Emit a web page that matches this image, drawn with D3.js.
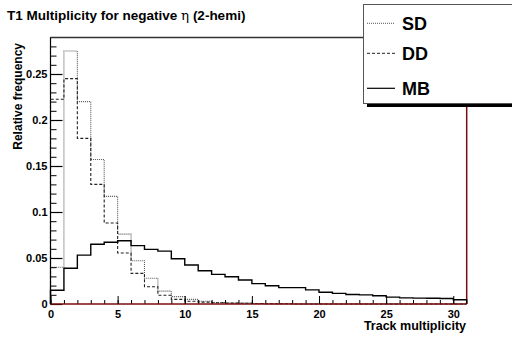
<!DOCTYPE html>
<html><head><meta charset="utf-8">
<script src="https://cdn.jsdelivr.net/npm/d3@7"></script>
<style>
body{margin:0;background:#fff;}
svg{display:block;font-family:"Liberation Sans",Arial,Helvetica,sans-serif;}
</style></head>
<body><svg id="c" width="512" height="338"></svg>
<script>
// Bins: track multiplicity 0..30, width 1
const binEdges = d3.range(0, 32);
const sdValues = [0.040, 0.275, 0.220, 0.157, 0.117, 0.076, 0.047, 0.028, 0.014, 0.008, 0.005, 0.003, 0.0015, 0.001, 0.001, 0.0005, 0.0003, 0.0002, 0, 0, 0, 0, 0, 0, 0, 0, 0, 0, 0, 0, 0];
const ddValues = [0.2225, 0.245, 0.180, 0.130, 0.088, 0.0555, 0.0333, 0.0188, 0.0095, 0.005, 0.003, 0.002, 0.0013, 0.001, 0.0008, 0.0005, 0.0003, 0.0002, 0, 0, 0, 0, 0, 0, 0, 0, 0, 0, 0, 0, 0];
const mbValues = [0.015, 0.0388, 0.0531, 0.0649, 0.0672, 0.0687, 0.0634, 0.0594, 0.0575, 0.0492, 0.0424, 0.0362, 0.0322, 0.0297, 0.0261, 0.0221, 0.0198, 0.0178, 0.0178, 0.0154, 0.0128, 0.0116, 0.0103, 0.0099, 0.009, 0.0075, 0.0067, 0.0064, 0.0062, 0.006, 0.0047];
const seriesNames = ["SD", "DD", "MB"];
const xMajorTicks = [0, 5, 10, 15, 20, 25, 30];
const yMajorTicks = [0, 0.05, 0.1, 0.15, 0.2, 0.25];
const yTickLabels = ["0", "0.05", "0.1", "0.15", "0.2", "0.25"];

const svg = d3.select("#c");
const x = d3.scaleLinear().domain([0, 31]).range([50.5, 466.7]);
const y = d3.scaleLinear().domain([0, 0.29]).range([304, 37.2]);

// Frame top
svg.append("line").attr("x1", 50.5).attr("x2", 466.7).attr("y1", 37.5).attr("y2", 37.5)
  .attr("stroke", "#333").attr("stroke-width", 1.5);
// Right frame
svg.append("line").attr("x1", 466.7).attr("x2", 466.7).attr("y1", 37.5).attr("y2", 304)
  .attr("stroke", "#7a0f0f").attr("stroke-width", 1.5);

// Histograms
const stepLine = d3.line().x(d => x(d[0])).y(d => y(d[1])).curve(d3.curveStepAfter);
function pts(vals){
  const p = [[0, 0]];
  vals.forEach((v, i) => p.push([binEdges[i], v]));
  p.push([binEdges[vals.length], vals[vals.length - 1]]);
  p.push([binEdges[vals.length], 0]);
  return p;
}
const styles = {
  SD: {stroke: "#555", width: 1.1, dash: "1,1"},
  DD: {stroke: "#222", width: 1.1, dash: "3,2"},
  MB: {stroke: "#000", width: 1.4, dash: null}
};
const data = {SD: sdValues, DD: ddValues, MB: mbValues};
seriesNames.forEach(n => {
  svg.append("path").attr("d", stepLine(pts(data[n])))
    .attr("fill", "none").attr("stroke", styles[n].stroke)
    .attr("stroke-width", styles[n].width)
    .attr("stroke-dasharray", styles[n].dash);
});

// Y axis
const yMinor = svg.append("g").attr("transform", "translate(50.5,0)")
  .call(d3.axisLeft(y).tickValues(d3.range(0, 0.285, 0.01)).tickSize(-6).tickFormat(""));
yMinor.select(".domain").remove();
yMinor.selectAll("line").attr("stroke", "#000").attr("stroke-width", 1);
const yAx = svg.append("g").attr("transform", "translate(50.5,0)")
  .call(d3.axisLeft(y).tickValues(yMajorTicks).tickSize(-12).tickPadding(3)
    .tickFormat((d, i) => yTickLabels[i]));
yAx.select(".domain").attr("d", `M0,${y(0)}V37.2`).attr("stroke", "#000").attr("stroke-width", 1.2);
yAx.selectAll("line").attr("stroke", "#000").attr("stroke-width", 1.2);
yAx.selectAll("text").attr("font-size", 11).attr("font-weight", "bold").attr("fill", "#000")
  .attr("font-family", "Liberation Sans, Arial, sans-serif");

// X axis
const xMinor = svg.append("g").attr("transform", "translate(0,304)")
  .call(d3.axisBottom(x).tickValues(d3.range(0, 31, 1)).tickSize(-4).tickFormat(""));
xMinor.select(".domain").remove();
xMinor.selectAll("line").attr("stroke", "#000");
const xAx = svg.append("g").attr("transform", "translate(0,304)")
  .call(d3.axisBottom(x).tickValues(xMajorTicks).tickSize(-8).tickPadding(6).tickFormat(d3.format("d")));
xAx.select(".domain").attr("d", `M${x(0)},0H${x(31)}`).attr("stroke", "#7a0f0f").attr("stroke-width", 1.6);
xAx.selectAll("line").attr("stroke", "#000");
xAx.selectAll("text").attr("font-size", 11).attr("font-weight", "bold").attr("fill", "#000")
  .attr("font-family", "Liberation Sans, Arial, sans-serif");

// Axis titles
svg.append("text").attr("x", 466).attr("y", 330).attr("text-anchor", "end")
  .attr("font-size", 12.5).attr("font-weight", "bold").text("Track multiplicity");
svg.append("text").attr("transform", "translate(21.5,43) rotate(-90)").attr("text-anchor", "end")
  .attr("font-size", 12).attr("font-weight", "bold").text("Relative frequency");

// Title
const t = svg.append("text").attr("x", 7).attr("y", 20).attr("font-size", 13.5).attr("font-weight", "bold");
t.append("tspan").text("T1 Multiplicity for negative ");
t.append("tspan").attr("font-weight", "normal").attr("font-family", "DejaVu Serif, serif").text("η");
t.append("tspan").text(" (2-hemi)");

// Legend
const lg = svg.append("g");
lg.append("rect").attr("x", 367).attr("y", 103.5).attr("width", 160).attr("height", 3.5).attr("fill", "#000");
lg.append("rect").attr("x", 363.5).attr("y", 4.5).attr("width", 160).attr("height", 99)
  .attr("fill", "#fff").attr("stroke", "#555").attr("stroke-width", 1);
const legY = [23.3, 53.3, 88.3];
seriesNames.forEach((n, i) => {
  lg.append("line").attr("x1", 367).attr("x2", 395).attr("y1", legY[i]).attr("y2", legY[i])
    .attr("stroke", styles[n].stroke).attr("stroke-width", n === "MB" ? 1.2 : 1)
    .attr("stroke-dasharray", styles[n].dash);
  lg.append("text").attr("x", 402).attr("y", legY[i] + 6.5).attr("font-size", 18)
    .attr("font-weight", "bold").text(n);
});
</script></body></html>
